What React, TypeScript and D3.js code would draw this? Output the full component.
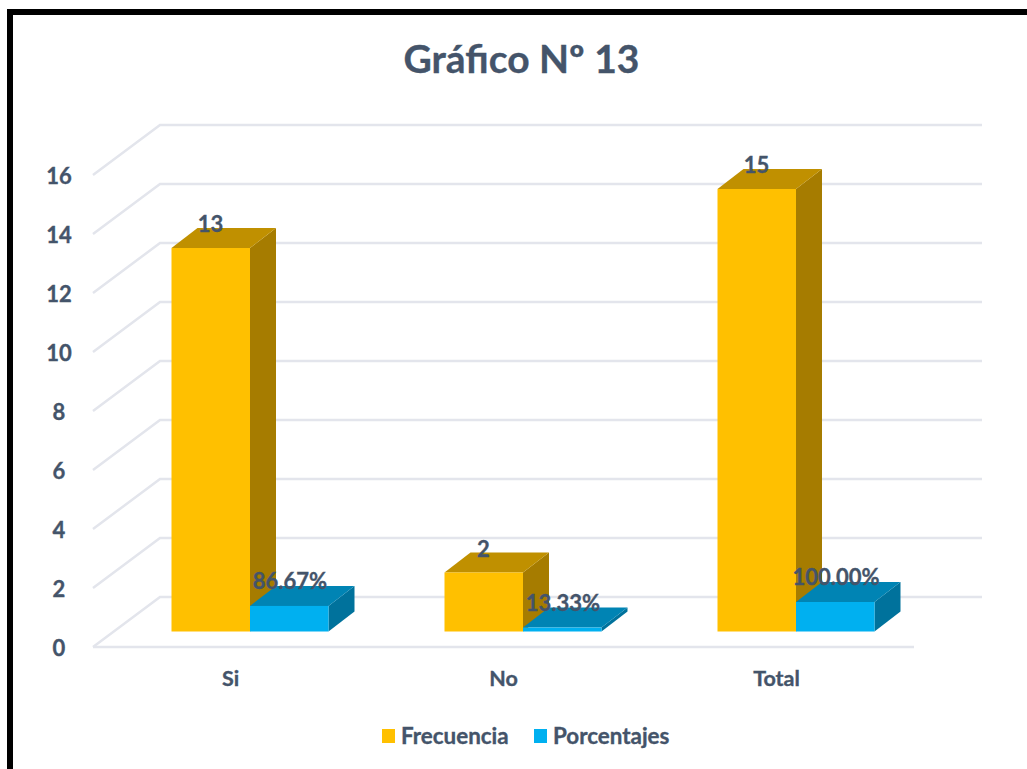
import React from "react";
import * as d3 from "d3";

const categories = ["Si", "No", "Total"];
const seriesNames = ["Frecuencia", "Porcentajes"];
const frecuencia = [13, 2, 15];
const porcentajes = [0.8667, 0.1333, 1];
const frecuenciaLabels = ["13", "2", "15"];
const porcentajesLabels = ["86.67%", "13.33%", "100.00%"];
const yTicks = [0, 2, 4, 6, 8, 10, 12, 14, 16];

const INK = "#44546A";
const GRID = "#E3E5EC";
const FONT = "Lato, Carlito, 'Open Sans', sans-serif";
const faces = [
  { front: "#FFC000", top: "#C09000", side: "#A67C00" },
  { front: "#00B0F0", top: "#0084B4", side: "#00729C" },
];

export default function App() {
  const y = d3.scaleLinear().domain([0, 16]).range([631.5, 159.5]);
  const band = d3.scaleBand().domain(categories).range([113.5, 932.5]);
  const barW = 78.5;
  const dx = 26;
  const dy = 20;
  const grid = (v: number) => {
    const h = y(0) - y(v);
    return { fy: 647 - h, by: 597 - h };
  };
  const line = d3.line();
  const bar = (x: number, v: number, c: (typeof faces)[number], key: string) => {
    const t = y(v);
    const b = y(0);
    const w = barW;
    return (
      <g key={key}>
        <path d={line([[x + w, b], [x + w + dx, b - dy], [x + w + dx, t - dy], [x + w, t]]) + "Z"} fill={c.side} />
        <path d={line([[x, t], [x + dx, t - dy], [x + w + dx, t - dy], [x + w, t]]) + "Z"} fill={c.top} />
        <rect x={x} y={t} width={w} height={b - t} fill={c.front} />
      </g>
    );
  };
  const bold = { stroke: INK, strokeWidth: 0.35 };
  return (
    <svg width={1027} height={769} style={{ position: "absolute", left: 0, top: 0, display: "block" }} fontFamily={FONT} fontWeight={700}>
      <rect width={1027} height={769} fill="#fff" />
      <rect x={10} y={12} width={1040} height={790} fill="#fff" stroke="#000" strokeWidth={6} />
      <text x={521.5} y={73} textAnchor="middle" fontSize={39} fill={INK} {...bold}>Gráfico Nº 13</text>

      {yTicks.map((v) => {
        const g = grid(v);
        return (
          <g key={v}>
            <path d={line([[93, g.fy], [160, g.by], [982, g.by]]) || ""} fill="none" stroke={GRID} strokeWidth={2.5} />
            <text x={59} y={g.fy + 9} textAnchor="middle" fontSize={22} fill={INK} {...bold}>{v}</text>
          </g>
        );
      })}
      <line x1={93} x2={914} y1={647} y2={647} stroke={GRID} strokeWidth={2.5} />

      {categories.map((c, i) => {
        const x0 = (band(c) as number) + band.bandwidth() / 2;
        return (
          <g key={c}>
            {bar(x0 - barW, frecuencia[i], faces[0], c + "f")}
            {bar(x0, porcentajes[i], faces[1], c + "p")}
            <text x={x0 - 19.5} y={686} textAnchor="middle" fontSize={21.5} fill={INK} {...bold}>{c}</text>
          </g>
        );
      })}
      {categories.map((c, i) => {
        const x0 = (band(c) as number) + band.bandwidth() / 2;
        return (
          <g key={c} fontSize={22} fill={INK} textAnchor="middle" {...bold}>
            <text x={x0 - barW + 39} y={y(frecuencia[i]) - 16}>{frecuenciaLabels[i]}</text>
            <text x={x0 + 40} y={y(porcentajes[i]) - 17}>{porcentajesLabels[i]}</text>
          </g>
        );
      })}

      <rect x={382} y={729} width={13} height={14} fill={faces[0].front} />
      <text x={401} y={744} fontSize={22.4} fill={INK} {...bold}>{seriesNames[0]}</text>
      <rect x={534} y={729} width={13} height={14} fill={faces[1].front} />
      <text x={553} y={744} fontSize={22.4} fill={INK} {...bold}>{seriesNames[1]}</text>
    </svg>
  );
}
